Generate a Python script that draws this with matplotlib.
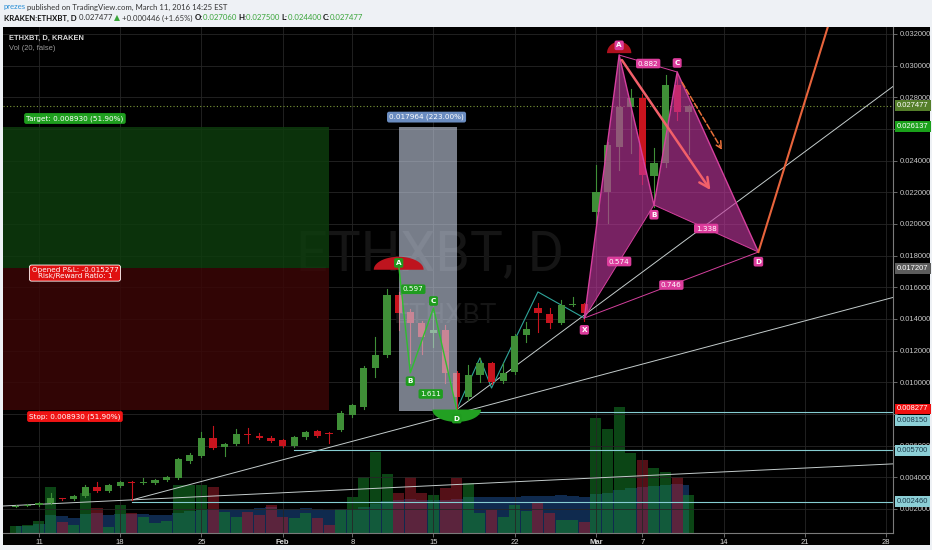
import numpy as np
import pandas as pd
import matplotlib
matplotlib.use('Agg')
import matplotlib.pyplot as plt
from matplotlib.patches import Rectangle, Polygon

plt.rcParams['font.family'] = ['Liberation Sans', 'DejaVu Sans']

# ------------------------------------------------------------------ data
# bar index: 0 = Jan 11 2016 (daily bars, KRAKEN ETHXBT)
bars = list(range(-2, 57))
opens = [0.00215, 0.00222, 0.00225, 0.00238, 0.00269, 0.00263, 0.00282, 0.00339, 0.00314, 0.00345,
         0.00370, 0.00364, 0.00364, 0.00383, 0.00396, 0.00503, 0.00535, 0.00648, 0.00592, 0.00611,
         0.00674, 0.00661, 0.00648, 0.00636, 0.00598, 0.00655, 0.00693, 0.00680, 0.00699, 0.00794,
         0.00844, 0.01091, 0.01173, 0.01552, 0.01444, 0.01375, 0.01310, 0.01330, 0.01059, 0.00907,
         0.01046, 0.01122, 0.01008, 0.01065, 0.01299, 0.01470, 0.01432, 0.01375, 0.01488, 0.01495,
         0.02076, 0.02202, 0.02486, 0.02739, 0.02796, 0.02303, 0.02385, 0.02878, 0.02706]
highs = [0.00226, 0.00232, 0.00244, 0.00301, 0.00272, 0.00288, 0.00351, 0.00370, 0.00358, 0.00376,
         0.00376, 0.00396, 0.00390, 0.00408, 0.00520, 0.00555, 0.00686, 0.00724, 0.00618, 0.00705,
         0.00710, 0.00680, 0.00660, 0.00642, 0.00660, 0.00692, 0.00700, 0.00686, 0.00820, 0.00865,
         0.01100, 0.01286, 0.01590, 0.01570, 0.01460, 0.01390, 0.01438, 0.01362, 0.01070, 0.01110,
         0.01154, 0.01130, 0.01122, 0.01305, 0.01381, 0.01501, 0.01470, 0.01520, 0.01539, 0.01500,
         0.02370, 0.02520, 0.03060, 0.02850, 0.02820, 0.02480, 0.02940, 0.02960, 0.02750]
lows = [0.00212, 0.00218, 0.00220, 0.00232, 0.00258, 0.00257, 0.00276, 0.00308, 0.00308, 0.00340,
        0.00257, 0.00360, 0.00358, 0.00377, 0.00390, 0.00490, 0.00530, 0.00580, 0.00535, 0.00605,
        0.00617, 0.00640, 0.00620, 0.00592, 0.00590, 0.00645, 0.00655, 0.00617, 0.00690, 0.00780,
        0.00830, 0.01034, 0.01160, 0.01330, 0.01122, 0.01180, 0.01220, 0.00996, 0.00828, 0.00890,
        0.01002, 0.00990, 0.00996, 0.01050, 0.01255, 0.01318, 0.01340, 0.01370, 0.01480, 0.01390,
        0.02000, 0.02006, 0.02341, 0.02450, 0.02250, 0.02110, 0.02360, 0.02657, 0.02440]
closes = [0.00222, 0.00228, 0.00238, 0.00269, 0.00263, 0.00282, 0.00339, 0.00314, 0.00351, 0.00370,
          0.00364, 0.00370, 0.00383, 0.00402, 0.00516, 0.00541, 0.00648, 0.00585, 0.00611, 0.00674,
          0.00667, 0.00648, 0.00630, 0.00598, 0.00655, 0.00686, 0.00661, 0.00674, 0.00806, 0.00857,
          0.01091, 0.01173, 0.01552, 0.01438, 0.01375, 0.01286, 0.01330, 0.01059, 0.00907, 0.01046,
          0.01122, 0.01002, 0.01059, 0.01293, 0.01337, 0.01438, 0.01375, 0.01488, 0.01495, 0.01438,
          0.02202, 0.02499, 0.02739, 0.02796, 0.02310, 0.02385, 0.02878, 0.02707, 0.027477]
volume = [7, 8, 12, 46, 11, 8, 40, 25, 6, 28,
          20, 16, 10, 12, 48, 48, 48, 46, 21, 16,
          21, 18, 28, 16, 15, 20, 15, 8, 23, 36,
          56, 81, 59, 40, 56, 40, 38, 45, 55, 50,
          20, 23, 16, 28, 22, 30, 20, 13, 13, 11,
          115, 104, 126, 80, 73, 65, 61, 56, 38]

x_tick_pos = [0, 7, 14, 21, 27, 34, 41, 48, 52, 59, 66, 73]
x_tick_lab = ['11', '18', '25', 'Feb', '8', '15', '22', 'Mar', '7', '14', '21', '28']
price_ticks = [0.002, 0.004, 0.006, 0.008, 0.010, 0.012, 0.014, 0.016,
               0.018, 0.020, 0.022, 0.024, 0.026, 0.028, 0.030, 0.032]
hidden_tick_labels = [0.008, 0.026]   # covered by price boxes in the original

last_price = 0.027477
# long position tool
pos_entry, pos_target, pos_stop, pos_end = 0.017207, 0.026137, 0.008277, 25
pos_pnl = '-0.015277'
# price range measurement
meas_start, meas_end, meas_low, meas_high = 31, 36, 0.008173, 0.026137
meas_pct = '223.00%'
# green ABCD pattern
g_pts = {'A': (31, 0.01741), 'B': (32, 0.0106), 'C': (34, 0.0147), 'D': (36, 0.00828)}
g_ratios = [('A', 'C', '0.597'), ('B', 'D', '1.611')]
# magenta XABCD pattern
m_pts = {'X': (47, 0.01406), 'A': (50, 0.03067), 'B': (53, 0.0212), 'C': (55, 0.0296), 'D': (62, 0.01823)}
m_ratios = [('X', 'B', '0.574'), ('A', 'C', '0.882'), ('B', 'D', '1.338'), ('X', 'D', '0.746')]
# horizontal levels (start bar, price)
h_levels = [(36, 0.00815), (22, 0.0057), (8, 0.00246)]
# zigzag
zig = [(36, 0.00828), (38, 0.01154), (39, 0.00964), (43, 0.01571), (47, 0.01406)]
# trend lines: two anchor points each
trend_rays = [((36, 0.00828), (47, 0.01425)), ((8, 0.00257), (36, 0.00803))]
trend_full = ((-3.1, 0.00219), (73.6, 0.00485))
# projections
proj_line = ((62, 0.01823), (68.3, 0.0332))
arrow_solid = ((50.1, 0.0305), (58.0, 0.0220))
arrow_dash = ((55.3, 0.02909), (59.0, 0.02453))

# ------------------------------------------------------------------ figure
W, H = 932, 550
fig = plt.figure(figsize=(W / 100, H / 100), dpi=100, facecolor='#eef1f5')


def fx(px):
    return px / W


def fy(py):
    return 1 - py / H


panel = fig.add_axes([fx(3), fy(545), fx(930) - fx(3), fy(27) - fy(545)])
panel.set_facecolor('black')
panel.set_xticks([]); panel.set_yticks([])
for s in panel.spines.values():
    s.set_visible(False)

rect = [fx(3), fy(533), fx(893) - fx(3), fy(27) - fy(533)]
XMIN, XMAX = -3.1, 73.6
YMIN, YMAX = 0.000484, 0.032442

axv = fig.add_axes(rect, facecolor='none')
axv.set_xlim(XMIN, XMAX); axv.set_ylim(0, 506)
axv.axis('off')

ax = fig.add_axes(rect, facecolor='none')
ax.set_xlim(XMIN, XMAX); ax.set_ylim(YMIN, YMAX)

# volume + MA
vol_ma = pd.Series(volume).rolling(20, min_periods=1).mean()
axv.fill_between(bars, vol_ma, step='mid', color='#0f2a4e', lw=0, zorder=1)
for b, o, c, v in zip(bars, opens, closes, volume):
    up = c >= o
    axv.bar(b, v, width=0.95, color='#168a2a' if up else '#a8202e', alpha=0.5, lw=0, zorder=2)

# grid and axes
ax.set_axisbelow(True)
ax.set_xticks(x_tick_pos)
ax.set_xticklabels(x_tick_lab)
for lab in ax.get_xticklabels():
    if lab.get_text() in ('Feb', 'Mar'):
        lab.set_fontweight('bold')
ax.set_yticks(price_ticks)
ax.set_yticklabels(['' if any(abs(p - h) < 1e-9 for h in hidden_tick_labels) else '%.6f' % p
                    for p in price_ticks])
ax.yaxis.tick_right()
ax.grid(True, color='#262626', lw=0.6)
ax.tick_params(axis='y', colors='#7a7a7a', labelcolor='#c8c8c8', labelsize=5.5, length=3, width=0.6, pad=1.5)
ax.tick_params(axis='x', colors='#7a7a7a', labelcolor='#d8d8d8', labelsize=5.5, length=3, width=0.6, pad=1.5)
for k in ('top', 'left'):
    ax.spines[k].set_visible(False)
for k in ('right', 'bottom'):
    ax.spines[k].set_color('#7a7a7a'); ax.spines[k].set_linewidth(0.8)

# watermark
ax.text(0.48, 0.55, 'ETHXBT, D', transform=ax.transAxes, fontsize=40, family='Roboto',
        color='#151515', ha='center', va='center', zorder=0.6)
ax.text(0.497, 0.43, 'ETHXBT', transform=ax.transAxes, fontsize=20, family='Roboto',
        color='#151515', ha='center', va='center', zorder=0.6)

# long position zones
ax.add_patch(Rectangle((XMIN, pos_entry), pos_end - XMIN, pos_target - pos_entry,
                       fc='#0e3c0e', alpha=0.85, lw=0, zorder=1))
ax.add_patch(Rectangle((XMIN, pos_stop), pos_end - XMIN, pos_entry - pos_stop,
                       fc='#3a0707', alpha=0.85, lw=0, zorder=1))

# current price dotted line
ax.axhline(last_price, color='#7c9a3a', ls=(0, (1, 2)), lw=0.8, zorder=1.5)

# trend lines
tl_col = '#c4cccc'
for (x0, y0), (x1, y1) in trend_rays:
    s = (y1 - y0) / (x1 - x0)
    ax.plot([x0, XMAX], [y0, y0 + s * (XMAX - x0)], color=tl_col, lw=0.7, zorder=2)
ax.plot([trend_full[0][0], trend_full[1][0]], [trend_full[0][1], trend_full[1][1]], color=tl_col, lw=0.7, zorder=2)
for x0, lev in h_levels:
    ax.plot([x0, XMAX], [lev, lev], color='#86cdd2', lw=0.8, zorder=2)
ax.plot([p[0] for p in zig], [p[1] for p in zig], color='#2fa59a', lw=0.8, zorder=2)

# candles
for b, o, h, l, c in zip(bars, opens, highs, lows, closes):
    col = '#3f8f37' if c >= o else '#c8141e'
    ax.plot([b, b], [l, h], color=col, lw=0.8, zorder=3)
    hgt = c - o if abs(c - o) > 0.00004 else 0.00004
    ax.bar(b, hgt, bottom=o, width=0.62, color=col, lw=0, zorder=3)

# measurement box
ax.add_patch(Rectangle((meas_start, meas_low), meas_end - meas_start, meas_high - meas_low,
                       fc='#c8d2e6', alpha=0.6, lw=0, zorder=4))
ax.annotate('%.6f (%s)' % (meas_high - meas_low, meas_pct),
            xy=((meas_start + meas_end) / 2 - 0.1, meas_high), xytext=(0, 7), textcoords='offset points',
            ha='center', va='center', fontsize=5.2, color='white', family='DejaVu Sans', zorder=7,
            bbox=dict(boxstyle='round,pad=0.3', fc='#6a8cc0', ec='none'))

# position labels
lab_kw = dict(ha='center', va='center', fontsize=5.2, color='white', family='DejaVu Sans', zorder=7,
              textcoords='offset points')
ax.annotate('Target: %.6f (%.2f%%)' % (pos_target - pos_entry, (pos_target - pos_entry) / pos_entry * 100),
            xy=(3.1, pos_target), xytext=(0, 6), bbox=dict(boxstyle='round,pad=0.3', fc='#1e9e1e', ec='none'), **lab_kw)
ax.annotate('Opened P&L: %s\nRisk/Reward Ratio: 1' % pos_pnl, xy=(3.1, pos_entry), xytext=(0, -3.5),
            linespacing=0.95, bbox=dict(boxstyle='round,pad=0.3', fc='#e01010', ec='white', lw=0.6), **lab_kw)
ax.annotate('Stop: %.6f (%.2f%%)' % (pos_entry - pos_stop, (pos_entry - pos_stop) / pos_entry * 100),
            xy=(3.1, pos_stop), xytext=(0, -5), bbox=dict(boxstyle='round,pad=0.3', fc='#f01414', ec='none'), **lab_kw)


def half_ellipse(cx, base, hw, hh, n=40):
    t = np.linspace(0, np.pi, n)
    return np.column_stack([cx + hw * np.cos(t), base + hh * np.sin(t)])


# green pattern
gA, gD = g_pts['A'], g_pts['D']
ax.add_patch(Polygon(half_ellipse(gA[0], gA[1] - 0.0003, 2.15, 0.00082), fc='#be141e', lw=0, zorder=4.5))
ax.add_patch(Polygon(half_ellipse(gD[0], gD[1], 2.1, -0.00078), fc='#22a022', lw=0, zorder=4.5))
seq = ['A', 'B', 'C', 'D']
ax.plot([g_pts[k][0] for k in seq], [g_pts[k][1] for k in seq], color='#2fbf2f', lw=1.0, zorder=5)
gbox = dict(boxstyle='round,pad=0.25', fc='#1f9c1f', ec='none')
for k, dy in zip(seq, [1.5, -6, 5, -6.5]):
    ax.annotate(k, xy=g_pts[k], xytext=(0, dy), bbox=gbox, fontweight='bold', **lab_kw)
for a, b, r in g_ratios:
    mx = (g_pts[a][0] + g_pts[b][0]) / 2
    my = (g_pts[a][1] + g_pts[b][1]) / 2
    ax.annotate(r, xy=(mx, my), xytext=(-2, -2), bbox=gbox, **lab_kw)

# magenta pattern
mc = '#d5409e'
P = m_pts
ax.add_patch(Polygon([P['X'], P['A'], P['B']], fc='#c2389f', alpha=0.62, lw=0, zorder=4))
ax.add_patch(Polygon([P['B'], P['C'], P['D']], fc='#c2389f', alpha=0.62, lw=0, zorder=4))
mseq = ['X', 'A', 'B', 'C', 'D']
ax.plot([P[k][0] for k in mseq], [P[k][1] for k in mseq], color=mc, lw=1.0, zorder=5)
for a, b, r in m_ratios:
    ax.plot([P[a][0], P[b][0]], [P[a][1], P[b][1]], color=mc, lw=0.7, zorder=5)
ax.add_patch(Polygon(half_ellipse(P['A'][0], P['A'][1] + 0.00012, 1.05, 0.00072), fc='#b0101e', lw=0, zorder=4.5))
mbox = dict(boxstyle='round,pad=0.25', fc='#dc3c9c', ec='none')
for k, dy in zip(mseq, [-8.5, 7, -7, 6.5, -7]):
    ax.annotate(k, xy=P[k], xytext=(0, dy), bbox=mbox, fontweight='bold', **lab_kw)
for a, b, r in m_ratios:
    mx = (P[a][0] + P[b][0]) / 2
    my = (P[a][1] + P[b][1]) / 2
    ax.annotate(r, xy=(mx, my), xytext=(0, 0), bbox=mbox, **lab_kw)

# projections
ax.plot([proj_line[0][0], proj_line[1][0]], [proj_line[0][1], proj_line[1][1]], color='#e8643c', lw=1.5, zorder=5)
ax.annotate('', xy=arrow_solid[1], xytext=arrow_solid[0],
            arrowprops=dict(arrowstyle='->,head_length=0.7,head_width=0.35', color='#f2606a', lw=1.8), zorder=6)
ax.annotate('', xy=arrow_dash[1], xytext=arrow_dash[0],
            arrowprops=dict(arrowstyle='->,head_length=0.5,head_width=0.25', color='#e8703a', lw=1.1, ls='--'), zorder=6)

# right-axis price boxes (price, background, text colour, vertical nudge in points)
price_boxes = [(last_price, '#557f2a', 'white', 0), (pos_target, '#1aa01a', 'white', 0),
               (pos_entry, '#5c5c5c', 'white', 0), (pos_stop, '#f01010', 'white', 0.5),
               (h_levels[0][1], '#8ccfd6', '#1b3a4b', -6.5),
               (h_levels[1][1], '#8ccfd6', '#1b3a4b', 0), (h_levels[2][1], '#8ccfd6', '#1b3a4b', 0)]
for p, fc, tc, dy in price_boxes:
    ax.annotate('%.6f' % p, xy=(1, p), xycoords=('axes fraction', 'data'), xytext=(3, dy),
                textcoords='offset points', ha='left', va='center', fontsize=5.5, color=tc,
                annotation_clip=False, zorder=8,
                bbox=dict(boxstyle='square,pad=0.25', fc=fc, ec='none'))

# in-chart legend
fig.text(fx(9), fy(38), 'ETHXBT, D, KRAKEN', fontsize=5.4, fontweight='bold', color='#d8d8d8', va='center')
fig.text(fx(9), fy(49), 'Vol (20, false)', fontsize=5.4, color='#9a9a9a', va='center')

# header
renderer = fig.canvas.get_renderer()


def seq_text(x_px, y_px, pieces, size):
    x = x_px
    for txt, col, wt in pieces:
        t = fig.text(fx(x), fy(y_px), txt, color=col, fontsize=size, fontweight=wt, va='center', ha='left',
                     family=['Lato', 'DejaVu Sans'])
        x = t.get_window_extent(renderer).x1


green = '#3aa53a'
seq_text(3, 7, [('prezes', '#2a8fd6', 'normal'),
                (' published on TradingView.com, March 11, 2016 14:25 EST', '#333333', 'normal')], 5.6)
seq_text(4, 18, [('KRAKEN:ETHXBT, D', '#111111', 'bold'), (' 0.027477 ', '#333333', 'normal'),
                 ('\u25B2', green, 'normal'), (' +0.000446 (+1.65%) ', '#333333', 'normal'),
                 ('O:', '#111111', 'bold'), ('0.027060 ', green, 'normal'),
                 ('H:', '#111111', 'bold'), ('0.027500 ', green, 'normal'),
                 ('L:', '#111111', 'bold'), ('0.024400 ', green, 'normal'),
                 ('C:', '#111111', 'bold'), ('0.027477', green, 'normal')], 5.6)

fig.savefig('out.png', dpi=100, facecolor=fig.get_facecolor())
